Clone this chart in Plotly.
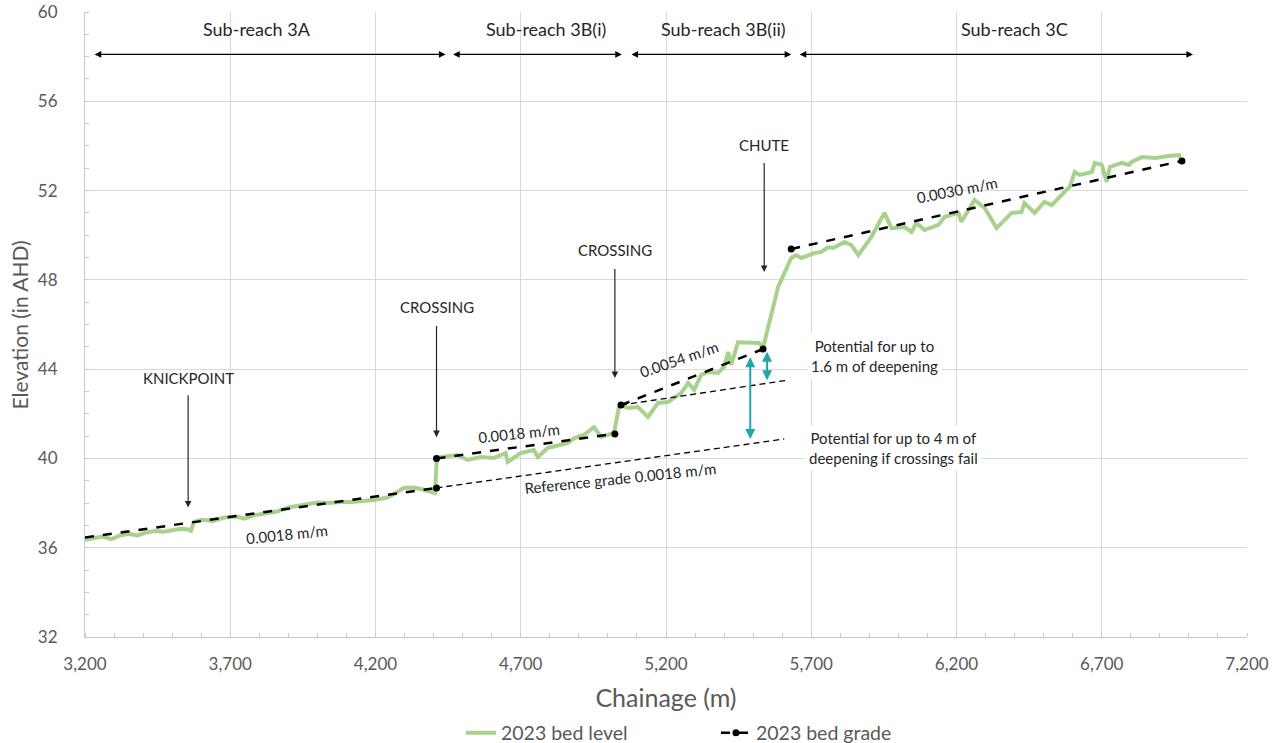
import plotly.graph_objects as go

# ---------------- data ----------------
level_chainage = [3200, 3230, 3260, 3290, 3320, 3350, 3380, 3410, 3440, 3470, 3500, 3530, 3555, 3565, 3575,
                  3600, 3640, 3680, 3720, 3750, 3780, 3820, 3860, 3900, 3940, 3970, 4000, 4040, 4080, 4120,
                  4160, 4200, 4240, 4270, 4297, 4330, 4360, 4385, 4405, 4410, 4417,
                  4483, 4517, 4562, 4607, 4648, 4655, 4700, 4745, 4759, 4793, 4862, 4883, 4917, 4952, 4976, 5021, 5038,
                  5045, 5069, 5103, 5138, 5172, 5207, 5252, 5276, 5297, 5321, 5345, 5379, 5400, 5414, 5424, 5448, 5521, 5534,
                  5586, 5631, 5648, 5666, 5710, 5734, 5759, 5776, 5814, 5838, 5862, 5907, 5952, 5976, 6021, 6045, 6062,
                  6090, 6138, 6159, 6207, 6217, 6241, 6262, 6297, 6338, 6390, 6424, 6434, 6469, 6503, 6528, 6572, 6590,
                  6607, 6624, 6666, 6676, 6700, 6717, 6728, 6769, 6793, 6803, 6838, 6883, 6931, 6966, 6969]
level_elev = [36.35, 36.42, 36.50, 36.38, 36.55, 36.62, 36.55, 36.68, 36.75, 36.72, 36.80, 36.85, 36.82, 36.76, 37.15,
              37.25, 37.20, 37.35, 37.40, 37.30, 37.45, 37.55, 37.62, 37.80, 37.90, 37.95, 38.02, 38.00, 38.05, 38.05,
              38.10, 38.15, 38.25, 38.45, 38.68, 38.70, 38.62, 38.50, 38.45, 39.80, 40.05,
              40.15, 39.93, 40.06, 40.02, 40.24, 39.84, 40.24, 40.38, 40.06, 40.47, 40.69, 40.90, 41.05, 41.40, 40.96, 41.14, 42.30,
              42.39, 42.26, 42.30, 41.86, 42.48, 42.53, 42.93, 43.38, 43.07, 43.74, 43.87, 43.83, 44.10, 44.77, 44.19, 45.20, 45.17, 44.95,
              47.68, 48.98, 49.10, 48.98, 49.20, 49.25, 49.47, 49.43, 49.70, 49.56, 49.11, 49.92, 51.00, 50.32, 50.37, 50.14, 50.55,
              50.23, 50.46, 50.82, 51.00, 50.60, 51.13, 51.58, 51.22, 50.32, 51.00, 51.04, 51.44, 51.00, 51.49, 51.35, 51.94, 52.16,
              52.83, 52.70, 52.83, 53.24, 53.15, 52.39, 53.06, 53.24, 53.15, 53.28, 53.50, 53.46, 53.55, 53.59, 53.46]

# 2023 bed grade segments (None = gap)
grade_a_chainage = [3200, 4410]
grade_a_elev = [36.46, 38.68]
grade_chainage = [4410, None, 4410, 5024, None, 5045, 5534, None, 5631, 6976]
grade_elev = [38.68, None, 40.00, 41.10, None, 42.39, 44.90, None, 49.38, 53.33]

# reference grade projections
ref_chainage = [4410, 5607, None, 5045, 5621]
ref_elev = [38.68, 40.87, None, 42.39, 43.51]

# sub-reaches (start, end, label position, label)
reach_start = [3228, 4462, 5076, 5655]
reach_end = [4441, 5048, 5631, 7014]
reach_label_x = [3793, 4786, 5397, 6400]
reach_labels = ["Sub-reach 3A", "Sub-reach 3B(i)", "Sub-reach 3B(ii)", "Sub-reach 3C"]
reach_y = 58.1
reach_label_y = 59.25

# feature callouts (label, x, text y, arrow top y, arrow tip y)
feat_labels = ["KNICKPOINT", "CROSSING", "CROSSING", "CHUTE"]
feat_x = [3555, 4410, 5024, 5538]
feat_text_y = [43.6, 46.8, 49.35, 54.05]
feat_arrow_top = [42.9, 46.0, 48.55, 53.3]
feat_arrow_tip = [37.8, 40.95, 43.6, 48.35]

# slope labels
slope_labels = ["0.0018 m/m", "Reference grade 0.0018 m/m", "0.0018 m/m", "0.0054 m/m", "0.0030 m/m"]
slope_x = [3897, 5045, 4693, 5245, 6200]
slope_y = [36.62, 39.12, 41.16, 44.45, 52.03]
slope_angle = [-6, -6, -6, -19, -11]

# deepening arrows (x, top, bottom)
deep_x = [5548, 5490]
deep_top = [44.85, 44.6]
deep_bottom = [43.5, 40.87]
deep_labels = ["Potential for up to<br>1.6 m of deepening",
               "Potential for up to 4 m of<br>deepening if crossings fail"]
deep_label_x = [5917, 5983]
deep_label_y = [44.6, 40.47]

x_ticks = [3200, 3700, 4200, 4700, 5200, 5700, 6200, 6700, 7200]
y_ticks = [32, 36, 40, 44, 48, 52, 56, 60]

# ---------------- figure ----------------
FONT = "Lato"
GREY = "#595959"
DARK = "#262626"
TEAL = "#1fa7a8"

fig = go.Figure()
fig.add_trace(go.Scatter(x=level_chainage, y=level_elev, mode="lines", name="2023 bed level",
                         line=dict(color="#a9d18e", width=4)))
fig.add_trace(go.Scatter(x=grade_a_chainage, y=grade_a_elev, mode="lines+markers", showlegend=False,
                         line=dict(color="black", width=2.5, dash="dash"),
                         marker=dict(color="black", size=[0, 7])))
fig.add_trace(go.Scatter(x=ref_chainage, y=ref_elev, mode="lines", showlegend=False,
                         line=dict(color="black", width=1.3, dash="6px,4px")))
fig.add_trace(go.Scatter(x=grade_chainage, y=grade_elev, mode="lines+markers", name="2023 bed grade",
                         line=dict(color="black", width=2.5, dash="dash"),
                         marker=dict(color="black", size=7)))

ann = []
for s, e in zip(reach_start, reach_end):
    ann.append(dict(x=e, y=reach_y, ax=s, ay=reach_y, xref="x", yref="y", axref="x", ayref="y",
                    text="", showarrow=True, arrowhead=2, arrowside="end+start", arrowsize=1.1,
                    arrowwidth=1.2, arrowcolor="black", standoff=0, startstandoff=0))
for lx, lab in zip(reach_label_x, reach_labels):
    ann.append(dict(x=lx, y=reach_label_y, xref="x", yref="y", text=lab, showarrow=False,
                    font=dict(family=FONT, size=18, color=DARK)))
for lab, fx, ty, at, tip in zip(feat_labels, feat_x, feat_text_y, feat_arrow_top, feat_arrow_tip):
    ann.append(dict(x=fx, y=ty, xref="x", yref="y", text=lab, showarrow=False,
                    font=dict(family=FONT, size=15, color=DARK)))
    ann.append(dict(x=fx, y=tip, ax=fx, ay=at, xref="x", yref="y", axref="x", ayref="y",
                    text="", showarrow=True, arrowhead=2, arrowsize=1.1, arrowwidth=1.2,
                    arrowcolor=DARK, standoff=0))
for lab, sx, sy, ang in zip(slope_labels, slope_x, slope_y, slope_angle):
    ann.append(dict(x=sx, y=sy, xref="x", yref="y", text=lab, showarrow=False, textangle=ang,
                    font=dict(family=FONT, size=15, color=DARK)))
for dx, dt, db in zip(deep_x, deep_top, deep_bottom):
    ann.append(dict(x=dx, y=db, ax=dx, ay=dt, xref="x", yref="y", axref="x", ayref="y",
                    text="", showarrow=True, arrowhead=2, arrowside="end+start", arrowsize=1.0,
                    arrowwidth=2, arrowcolor=TEAL, standoff=0, startstandoff=0))
for lab, lx, ly in zip(deep_labels, deep_label_x, deep_label_y):
    ann.append(dict(x=lx, y=ly, xref="x", yref="y", text=lab, showarrow=False, bgcolor="white",
                    borderpad=3, font=dict(family=FONT, size=15, color=DARK)))
# y-axis title
ann.append(dict(x=-0.056, y=0.5, xref="paper", yref="paper", text="Elevation (in AHD)",
                textangle=-90, showarrow=False, xanchor="center", yanchor="middle",
                font=dict(family=FONT, size=21, color=GREY)))

fig.update_layout(
    width=1279, height=743,
    margin=dict(l=85, r=32, t=12, b=106),
    paper_bgcolor="white", plot_bgcolor="white",
    font=dict(family=FONT, color=GREY),
    annotations=ann,
    showlegend=True,
    legend=dict(orientation="h", x=0.543, xanchor="center", xref="paper",
                y=0.0135, yanchor="middle", yref="container",
                font=dict(family=FONT, size=19.5, color=GREY), entrywidth=210, entrywidthmode="pixels",
                itemwidth=30),
    xaxis=dict(range=[3200, 7200], tickvals=x_ticks, ticktext=[f"{v:,}" for v in x_ticks],
               automargin=False,
               showgrid=True, gridcolor="#d9d9d9", gridwidth=1, zeroline=False,
               showline=True, linecolor="#c8c8c8", linewidth=1,
               ticks="", ticklabelstandoff=12, tickfont=dict(family=FONT, size=17, color=GREY),
               minor=dict(dtick=100, tick0=3200, ticks="inside", ticklen=4, tickcolor="#c8c8c8", showgrid=False),
               title=dict(text="Chainage (m)", font=dict(family=FONT, size=25, color=GREY), standoff=16)),
    yaxis=dict(range=[32, 60], tickvals=y_ticks, automargin=False,
               showgrid=True, gridcolor="#d9d9d9", gridwidth=1,
               zeroline=False, showline=True, linecolor="#c8c8c8", linewidth=1,
               ticks="", ticklabelstandoff=23, tickfont=dict(family=FONT, size=17, color=GREY),
               minor=dict(dtick=1, tick0=32, ticks="inside", ticklen=4, tickcolor="#c8c8c8", showgrid=False)),
)

fig.write_html("out.html", config={"displayModeBar": False},
               post_script="document.body.style.margin='0px';")
